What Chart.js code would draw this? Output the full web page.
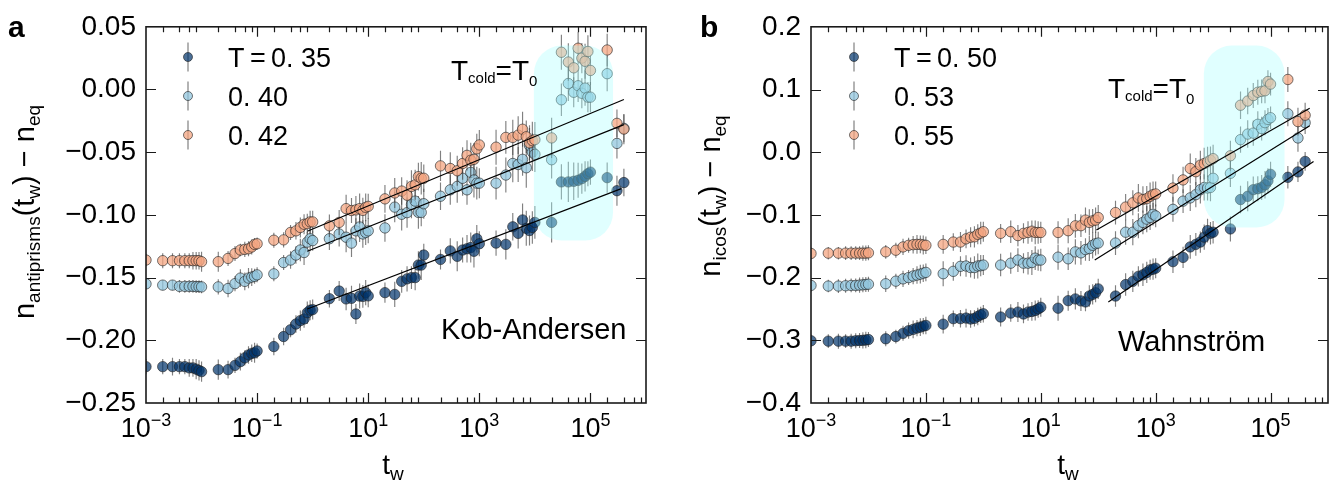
<!DOCTYPE html>
<html><head><meta charset="utf-8">
<script src="https://cdn.jsdelivr.net/npm/chart.js@4.4.1/dist/chart.umd.min.js"></script>
<style>
html,body{margin:0;padding:0;background:#fff;}
#wrap{position:relative;width:1340px;height:485px;overflow:hidden;background:#fff;}
canvas{position:absolute;top:0;}
</style></head><body>
<div id="wrap"><canvas id="ca" width="670" height="485" style="left:0"></canvas><canvas id="cb" width="670" height="485" style="left:670px"></canvas></div>
<script>
const FONT = "'Liberation Sans', Arial, Helvetica, sans-serif";

// waiting times t_w (shared x grid)
const tw = [0.001,0.002,0.003,0.004,0.005,0.006,0.007,0.008,0.009,
 0.01,0.02,0.03,0.04,0.05,0.06,0.07,0.08,0.09,
 0.1,0.2,0.3,0.4,0.5,0.6,0.7,0.8,0.9,
 1,2,3,4,5,6,7,8,9,
 10,20,30,40,50,60,70,80,90,
 100,200,300,400,500,600,700,800,900,
 1000,2000,3000,4000,5000,6000,7000,8000,9000,
 10000,20000,30000,40000,50000,60000,70000,80000,90000,
 100000,200000,300000,400000];

// Kob-Andersen: n_antiprisms(t_w) - n_eq
const kaT035 = [-0.221,-0.221,-0.221,-0.221,-0.221,-0.222,-0.222,-0.223,-0.224,
 -0.225,-0.2234,-0.2234,-0.220,-0.217,-0.214,-0.2117,-0.2104,-0.210,
 -0.2085,-0.205,-0.197,-0.1916,-0.187,-0.1843,-0.183,-0.178,-0.176,
 -0.1755,-0.1668,-0.1607,-0.167,-0.1665,-0.179,-0.1647,-0.165,-0.162,
 -0.1646,-0.162,-0.1634,-0.153,-0.151,-0.150,-0.150,-0.140,-0.140,
 -0.132,-0.1355,-0.1287,-0.133,-0.128,-0.127,-0.126,-0.129,-0.119,
 -0.123,-0.1225,-0.1235,-0.1095,-0.1147,-0.104,-0.1107,-0.1125,-0.110,
 -0.106,-0.106,-0.0737,-0.0737,-0.0732,-0.0724,-0.0711,-0.0693,-0.0672,
 -0.0659,-0.0703,-0.0807,-0.0742];
const kaT040 = [-0.155,-0.156,-0.156,-0.157,-0.157,-0.157,-0.157,-0.1572,-0.1572,
 -0.1574,-0.1574,-0.1587,-0.1548,-0.1504,-0.153,-0.1504,-0.1496,-0.149,
 -0.1478,-0.147,-0.138,-0.136,-0.132,-0.128,-0.130,-0.1217,-0.119,
 -0.1205,-0.119,-0.1152,-0.1178,-0.1225,-0.1127,-0.1096,-0.1152,-0.114,
 -0.1127,-0.1104,-0.0938,-0.0995,-0.0982,-0.0917,-0.089,-0.098,-0.098,
 -0.0911,-0.0851,-0.080,-0.0773,-0.0708,-0.080,-0.0661,-0.0721,-0.0747,
 -0.0747,-0.0747,-0.0682,-0.059,-0.0598,-0.0557,-0.0624,-0.0447,-0.0499,
 -0.0517,-0.056,-0.0082,0.0048,-0.0022,0.003,-0.003,0.0011,-0.0061,
 -0.0061,0.0126,-0.043,-0.031];
const kaT042 = [-0.136,-0.1365,-0.1365,-0.1365,-0.1365,-0.1365,-0.1365,-0.1365,-0.1365,
 -0.1373,-0.1373,-0.1347,-0.1308,-0.128,-0.1275,-0.127,-0.1256,-0.1235,
 -0.123,-0.1202,-0.1199,-0.114,-0.1127,-0.110,-0.1075,-0.107,-0.1056,
 -0.1056,-0.1087,-0.106,-0.095,-0.0965,-0.096,-0.095,-0.0964,-0.094,
 -0.0932,-0.0872,-0.0825,-0.081,-0.0843,-0.0773,-0.076,-0.0695,-0.0708,
 -0.0708,-0.0609,-0.063,-0.0648,-0.059,-0.0525,-0.0564,-0.0557,-0.0473,
 -0.0442,-0.046,-0.0382,-0.0382,-0.0364,-0.0317,-0.0377,-0.0426,-0.0408,
 -0.040,-0.0386,0.0297,0.0219,0.0173,0.0329,0.025,0.0225,0.0303,
 0.0152,0.0315,-0.027,-0.0316];
const kaErr035 = [.006,.006,.007,.006,.006,.007,.007,.008,.008,
 .008,.008,.007,.006,.007,.006,.007,.007,.008,
 .006,.007,.007,.006,.007,.008,.007,.009,.008,
 .008,.007,.008,.009,.01,.008,.01,.009,.01,
 .009,.008,.01,.009,.01,.009,.01,.011,.012,
 .009,.008,.01,.012,.01,.011,.012,.013,.011,
 .01,.01,.012,.011,.012,.013,.014,.012,.013,
 .013,.016,.014,.016,.015,.014,.012,.012,.01,
 .01,.012,.012,.011];
const kaErr040 = [.004,.004,.004,.005,.005,.005,.005,.005,.005,
 .005,.006,.007,.006,.007,.007,.008,.007,.006,
 .006,.006,.006,.007,.007,.009,.01,.008,.01,
 .008,.009,.01,.012,.011,.01,.012,.011,.01,
 .01,.011,.012,.013,.012,.011,.012,.013,.011,
 .012,.011,.012,.013,.014,.012,.013,.014,.013,
 .012,.013,.014,.015,.014,.013,.016,.014,.015,
 .014,.015,.013,.014,.012,.013,.012,.014,.012,
 .012,.014,.012,.011];
const kaErr042 = [.005,.006,.006,.006,.006,.006,.007,.007,.007,
 .008,.008,.006,.006,.005,.006,.006,.006,.005,
 .005,.006,.006,.006,.007,.008,.008,.008,.009,
 .009,.009,.01,.011,.01,.011,.012,.01,.011,
 .01,.011,.012,.011,.012,.013,.012,.011,.013,
 .011,.012,.013,.012,.013,.012,.014,.013,.012,
 .012,.014,.013,.014,.015,.014,.013,.014,.015,
 .014,.016,.014,.015,.014,.013,.012,.014,.013,
 .012,.013,.011,.012];

// Wahnstrom: n_icos(t_w) - n_eq
const wT050 = [-0.3007,-0.3014,-0.3014,-0.3014,-0.3014,-0.3007,-0.3003,-0.300,-0.2995,
 -0.2988,-0.2976,-0.294,-0.2889,-0.2847,-0.2826,-0.2805,-0.279,-0.2774,
 -0.2763,-0.2743,-0.2655,-0.2655,-0.2645,-0.266,-0.265,-0.2619,-0.2593,
 -0.2577,-0.2628,-0.2566,-0.255,-0.258,-0.255,-0.254,-0.2525,-0.250,
 -0.2473,-0.2488,-0.2368,-0.234,-0.2372,-0.2388,-0.2294,-0.2268,-0.2242,
 -0.218,-0.2294,-0.2111,-0.206,-0.198,-0.1955,-0.1918,-0.1876,-0.1866,
 -0.185,-0.1746,-0.1678,-0.1511,-0.147,-0.1433,-0.1355,-0.125,-0.1292,
 -0.1276,-0.1224,-0.0755,-0.0703,-0.0598,-0.0583,-0.0562,-0.052,-0.0457,
 -0.0353,-0.040,-0.0314,-0.0147];
const wT053 = [-0.2125,-0.2135,-0.2135,-0.213,-0.2125,-0.2125,-0.212,-0.2115,-0.211,
 -0.2105,-0.2098,-0.2057,-0.202,-0.200,-0.1975,-0.196,-0.1945,-0.193,
 -0.1917,-0.1938,-0.190,-0.182,-0.1815,-0.184,-0.184,-0.1815,-0.181,
 -0.180,-0.180,-0.177,-0.172,-0.177,-0.177,-0.176,-0.169,-0.172,
 -0.172,-0.1674,-0.170,-0.159,-0.1605,-0.1553,-0.1537,-0.1485,-0.1459,
 -0.1449,-0.1449,-0.1276,-0.1276,-0.1172,-0.112,-0.1068,-0.1042,-0.099,
 -0.1016,-0.0911,-0.0781,-0.0729,-0.0677,-0.0598,-0.0562,-0.0572,-0.0562,
 -0.0416,-0.0337,0.020,0.0289,0.0304,0.0445,0.0377,0.0471,0.0523,
 0.055,0.0614,0.0227,0.047];
const wT055 = [-0.1615,-0.161,-0.161,-0.161,-0.161,-0.161,-0.161,-0.161,-0.161,
 -0.1605,-0.1589,-0.1563,-0.1511,-0.1485,-0.1475,-0.147,-0.147,-0.148,
 -0.1485,-0.147,-0.1433,-0.1433,-0.1382,-0.1356,-0.135,-0.131,-0.129,
 -0.1268,-0.1294,-0.1268,-0.133,-0.1294,-0.128,-0.126,-0.128,-0.128,
 -0.128,-0.128,-0.1252,-0.1174,-0.1172,-0.1083,-0.112,-0.1094,-0.1083,
 -0.1042,-0.0963,-0.0875,-0.0807,-0.0729,-0.0755,-0.074,-0.0703,-0.0677,
 -0.0666,-0.0572,-0.0442,-0.0259,-0.0311,-0.0207,-0.0181,-0.0155,-0.0129,
 -0.0103,-0.0057,0.0749,0.0816,0.0904,0.0956,0.097,0.098,0.1127,
 0.1086,0.116,0.0488,0.059];
const wErr050 = [.01,.011,.012,.011,.012,.012,.012,.013,.013,
 .012,.012,.011,.012,.013,.014,.013,.014,.013,
 .014,.015,.013,.014,.015,.014,.013,.014,.013,
 .014,.015,.014,.016,.015,.014,.015,.016,.014,
 .015,.02,.016,.017,.016,.015,.017,.016,.015,
 .016,.017,.018,.017,.016,.018,.017,.016,.017,
 .016,.018,.017,.019,.018,.017,.02,.019,.018,
 .018,.02,.022,.024,.021,.02,.02,.022,.02,
 .02,.018,.016,.015];
const wErr053 = [.01,.01,.011,.011,.011,.011,.012,.012,.012,
 .012,.013,.012,.013,.012,.013,.014,.015,.014,
 .014,.02,.015,.016,.017,.016,.018,.02,.017,
 .016,.018,.017,.019,.016,.018,.02,.019,.017,
 .018,.02,.018,.02,.019,.018,.02,.021,.019,
 .018,.019,.02,.021,.02,.019,.021,.02,.018,
 .018,.02,.019,.021,.02,.022,.021,.02,.022,
 .02,.022,.021,.022,.02,.021,.019,.02,.018,
 .018,.02,.022,.018];
const wErr055 = [.01,.01,.01,.011,.011,.011,.011,.012,.012,
 .012,.011,.012,.013,.012,.014,.015,.014,.015,
 .014,.015,.014,.016,.015,.016,.017,.016,.018,
 .016,.015,.018,.017,.016,.018,.017,.019,.018,
 .017,.018,.02,.019,.018,.02,.021,.019,.02,
 .02,.019,.021,.02,.022,.021,.02,.022,.021,
 .02,.022,.021,.024,.022,.023,.025,.024,.022,
 .022,.024,.022,.021,.02,.02,.019,.02,.018,
 .018,.02,.022,.02];

// power-law fits (two end points each)
const kaFit035x = [0.8, 360000], kaFit035y = [-0.175, -0.079];
const kaFit040x = [0.8, 400000], kaFit040y = [-0.129, -0.028];
const kaFit042x = [0.8, 400000], kaFit042y = [-0.113, -0.008];
const wFit050x = [150, 560000], wFit050y = [-0.239, -0.015];
const wFit053x = [87, 480000], wFit053y = [-0.172, 0.042];
const wFit055x = [93, 480000], wFit055y = [-0.124, 0.070];

// shaded T_cold = T_0 regions [xmin, xmax, ymin, ymax]
const kaBox = [9600, 255000, -0.1205, 0.035];
const wBox = [6900, 175000, -0.12, 0.170];

// ticks and labels
const kaYTicks = [-0.25, -0.20, -0.15, -0.10, -0.05, 0.00, 0.05];
const wYTicks = [-0.4, -0.3, -0.2, -0.1, 0.0, 0.1, 0.2];
const xMajorExp = [-3, -1, 1, 3, 5];
const xMinorMult = [2, 4, 6, 8];
const kaLegend = ['T\u2009=\u20090. 35', '0. 40', '0. 42'];
const wLegend = ['T\u2009=\u20090. 50', '0. 53', '0. 55'];

const COLORS = ['rgba(0,51,107,0.7)', 'rgba(146,197,222,0.75)', 'rgba(244,165,130,0.75)'];
const EDGE = 'rgba(30,30,30,0.6)';
const ERRC = 'rgba(60,60,60,0.65)';

function pts(ys) { return tw.map((x, i) => ({x: x, y: ys[i]})); }
function linePts(xs, ys) { return xs.map((x, i) => ({x: x, y: ys[i]})); }

function richText(ctx, segs, x, y, align) {
  let total = 0; const ws = [];
  for (const s of segs) { ctx.font = (s[3] || '') + ' ' + s[1] + 'px ' + FONT; const w = ctx.measureText(s[0]).width; ws.push(w); total += w; }
  let cx = align === 'center' ? x - total / 2 : (align === 'right' ? x - total : x);
  ctx.textAlign = 'left'; ctx.textBaseline = 'alphabetic';
  segs.forEach((s, i) => { ctx.font = (s[3] || '') + ' ' + s[1] + 'px ' + FONT; ctx.fillText(s[0], cx, y + (s[2] || 0)); cx += ws[i]; });
}
function roundRectPath(ctx, x, y, w, h, r) {
  r = Math.min(r, w / 2, h / 2);
  ctx.beginPath();
  ctx.moveTo(x + r, y);
  ctx.arcTo(x + w, y, x + w, y + h, r);
  ctx.arcTo(x + w, y + h, x, y + h, r);
  ctx.arcTo(x, y + h, x, y, r);
  ctx.arcTo(x, y, x + w, y, r);
  ctx.closePath();
}

function panelPlugin(P) {
  return {
    id: 'panel' + P.id,
    beforeDatasetDraw(chart, args) {
      const ds = chart.data.datasets[args.index];
      const ctx = chart.ctx, xs = chart.scales.x, ys = chart.scales.y, a = chart.chartArea;
      if (ds.isFit && args.index === P.series.length) {
        // translucent T_cold = T_0 region: above the points, under the fit lines
        const x1 = xs.getPixelForValue(P.box[0]), x2 = xs.getPixelForValue(P.box[1]);
        const y1 = ys.getPixelForValue(P.box[3]), y2 = ys.getPixelForValue(P.box[2]);
        ctx.save(); ctx.fillStyle = 'rgba(165,255,255,0.35)';
        roundRectPath(ctx, x1, y1, x2 - x1, y2 - y1, 28); ctx.fill(); ctx.restore();
      }
      if (!ds.err) return;
      ctx.save();
      ctx.beginPath(); ctx.rect(a.left, a.top, a.right - a.left, a.bottom - a.top); ctx.clip();
      ctx.strokeStyle = ERRC; ctx.lineWidth = 1.15;
      ds.data.forEach((p, i) => {
        const x = xs.getPixelForValue(p.x);
        ctx.beginPath();
        ctx.moveTo(x, ys.getPixelForValue(p.y - ds.err[i]));
        ctx.lineTo(x, ys.getPixelForValue(p.y + ds.err[i]));
        ctx.stroke();
      });
      ctx.restore();
    },
    afterDraw(chart) {
      const ctx = chart.ctx, xs = chart.scales.x, ys = chart.scales.y;
      const {left, right, top, bottom} = chart.chartArea;
      ctx.save();
      // frame
      ctx.strokeStyle = '#1a1a1a'; ctx.lineWidth = 1.6;
      ctx.strokeRect(left, top, right - left, bottom - top);
      // x ticks (inward, bottom and top)
      ctx.lineWidth = 1.2;
      for (let k = -3; k <= 5; k++) {
        const vals = [];
        if (xMajorExp.includes(k)) vals.push([Math.pow(10, k), 10]);
        xMinorMult.forEach(m => vals.push([m * Math.pow(10, k), 5.5]));
        vals.forEach(([v, len]) => {
          const px = Math.round(xs.getPixelForValue(v)) + 0.5;
          if (px < left + 1 || px > right - 1) return;
          ctx.beginPath(); ctx.moveTo(px, bottom); ctx.lineTo(px, bottom - len);
          ctx.moveTo(px, top); ctx.lineTo(px, top + len); ctx.stroke();
        });
      }
      // y ticks (inward, left and right)
      P.yTicks.forEach(v => {
        const py = Math.round(ys.getPixelForValue(v)) + 0.5;
        if (py < top + 1 || py > bottom - 1) return;
        ctx.beginPath(); ctx.moveTo(left, py); ctx.lineTo(left + 10, py);
        ctx.moveTo(right, py); ctx.lineTo(right - 10, py); ctx.stroke();
      });
      // x tick labels 10^k
      ctx.fillStyle = '#000';
      xMajorExp.forEach(k => {
        const px = xs.getPixelForValue(Math.pow(10, k));
        const sup = k < 0 ? '\u2212' + (-k) : String(k);
        ctx.font = '27px ' + FONT; const wb = ctx.measureText('10').width;
        ctx.font = '18px ' + FONT; const wsu = ctx.measureText(sup).width;
        const st = px - (wb + wsu) / 2;
        ctx.textAlign = 'left'; ctx.textBaseline = 'alphabetic';
        ctx.font = '27px ' + FONT; ctx.fillText('10', st, 437);
        ctx.font = '18px ' + FONT; ctx.fillText(sup, st + wb, 426);
      });
      // x title
      richText(ctx, [['t', 28], ['w', 19, 6]], P.xTitleX, 474, 'center');
      // y title (rotated)
      ctx.save();
      ctx.translate(P.yTitleX, P.yTitleY); ctx.rotate(-Math.PI / 2);
      richText(ctx, P.yTitle, 0, 0, 'center');
      ctx.restore();
      // panel letter
      richText(ctx, [[P.letter, 30, 0, 'bold']], P.letterX, 37, 'left');
      // T_cold = T_0
      richText(ctx, [['T', 28], ['cold', 15, 3], ['=', 28], ['T', 28], ['0', 15, 5.5]], P.tcX, P.tcY, 'left');
      // model name
      richText(ctx, [[P.model, 29]], P.modelX, P.modelY, 'left');
      // legend
      P.legend.forEach((lab, i) => {
        const my = P.legY + i * 39, mx = P.legX;
        ctx.strokeStyle = ERRC; ctx.lineWidth = 1.2;
        ctx.beginPath(); ctx.moveTo(mx, my - 14.5); ctx.lineTo(mx, my + 14.5); ctx.stroke();
        ctx.beginPath(); ctx.arc(mx, my, 4.5, 0, Math.PI * 2);
        ctx.fillStyle = COLORS[i]; ctx.fill();
        ctx.strokeStyle = EDGE; ctx.lineWidth = 1; ctx.stroke();
        ctx.fillStyle = '#000';
        richText(ctx, [[lab, 27]], P.legTextX, my + 9.5, 'left');
      });
      ctx.restore();
    }
  };
}

function makePanel(P) {
  const sets = P.series.map((s, i) => ({
    type: 'scatter', data: pts(s), err: P.errs[i], order: 10 - i,
    backgroundColor: COLORS[i], borderColor: EDGE, borderWidth: 1,
    pointRadius: 5.2, pointHoverRadius: 5.2
  }));
  P.fits.forEach((f, j) => sets.push({
    type: 'line', data: linePts(f[0], f[1]), order: 3 - j, isFit: true,
    borderColor: '#000', borderWidth: 1.2, pointRadius: 0, fill: false, tension: 0
  }));
  return new Chart(document.getElementById(P.canvas), {
    type: 'scatter',
    data: {datasets: sets},
    options: {
      responsive: false, animation: false, events: [],
      layout: {padding: {left: 0, right: P.padRight, top: 18, bottom: 0}},
      plugins: {legend: {display: false}, tooltip: {enabled: false}},
      scales: {
        x: {type: 'logarithmic', min: 1e-3, max: 1e6,
            ticks: {display: false}, grid: {display: false, drawTicks: false}, border: {display: false},
            afterFit(s) { s.height = 82; }},
        y: {type: 'linear', min: P.yTicks[0], max: P.yTicks[P.yTicks.length - 1],
            afterBuildTicks(s) { s.ticks = P.yTicks.map(v => ({value: v})); },
            ticks: {autoSkip: false, color: '#000', padding: 10, font: {family: FONT, size: 28},
                    callback: v => { const r = Math.round(v * 100) / 100; const t = Math.abs(r).toFixed(P.dec); return r < 0 ? '\u2212' + t : t; }},
            grid: {display: false, drawTicks: false}, border: {display: false},
            afterFit(s) { s.width = P.yWidth; }}
      }
    },
    plugins: [panelPlugin(P)]
  });
}

makePanel({
  id: 'a', canvas: 'ca', series: [kaT035, kaT040, kaT042], errs: [kaErr035, kaErr040, kaErr042],
  fits: [[kaFit035x, kaFit035y], [kaFit040x, kaFit040y], [kaFit042x, kaFit042y]],
  box: kaBox, yTicks: kaYTicks, dec: 2, yWidth: 146, padRight: 24,
  xTitleX: 393, yTitleX: 34, yTitleY: 212,
  yTitle: [['n', 29], ['antiprisms', 19, 6], ['(t', 29], ['w', 19, 6], [') \u2212 n', 29], ['eq', 19, 6]],
  letter: 'a', letterX: 8, tcX: 451, tcY: 80, model: 'Kob-Andersen', modelX: 441, modelY: 339,
  legend: kaLegend, legX: 188, legY: 57, legTextX: 228
});
makePanel({
  id: 'b', canvas: 'cb', series: [wT050, wT053, wT055], errs: [wErr050, wErr053, wErr055],
  fits: [[wFit050x, wFit050y], [wFit053x, wFit053y], [wFit055x, wFit055y]],
  box: wBox, yTicks: wYTicks, dec: 1, yWidth: 141, padRight: 12,
  xTitleX: 398, yTitleX: 50, yTitleY: 196,
  yTitle: [['n', 29], ['icos', 19, 6], ['(t', 29], ['w', 19, 6], [') \u2212 n', 29], ['eq', 19, 6]],
  letter: 'b', letterX: 30, tcX: 438, tcY: 98, model: 'Wahnstr\u00f6m', modelX: 448, modelY: 351,
  legend: wLegend, legX: 184, legY: 57, legTextX: 224
});
</script>
</body></html>
